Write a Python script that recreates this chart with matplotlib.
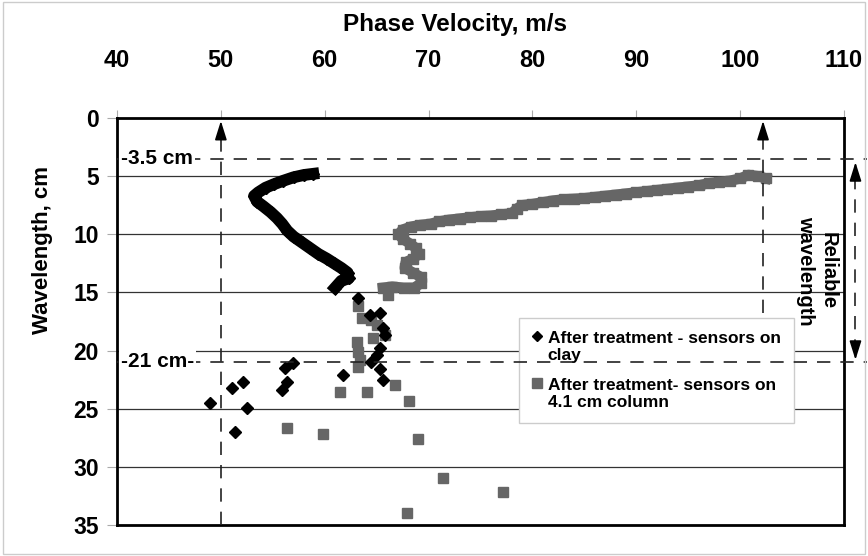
import numpy as np
import matplotlib.pyplot as plt
from matplotlib.lines import Line2D
from matplotlib.patches import Rectangle
from matplotlib.legend_handler import HandlerLine2D

plt.rcParams['font.family'] = ['Liberation Sans', 'DejaVu Sans']

# Data
# After treatment - sensors on clay (dense part of the curve)
clay_dense_v = [58.9, 58.0, 57.0, 56.0, 55.1, 54.3, 53.6, 53.2, 53.5, 54.1, 54.8, 55.4, 55.9,
                56.4, 57.0, 57.8, 58.6, 59.4, 60.2, 60.9, 61.6, 62.2, 62.3, 61.6, 61.3, 61.0]
clay_dense_w = [4.8, 4.9, 5.1, 5.4, 5.7, 6.0, 6.4, 6.7, 7.2, 7.6, 8.1, 8.6, 9.1,
                9.7, 10.2, 10.7, 11.2, 11.7, 12.1, 12.5, 12.9, 13.3, 13.8, 14.0, 14.3, 14.6]
# scattered points
clay_v = [63.2, 64.4, 65.3, 65.6, 65.8, 65.3, 65.0, 64.5, 65.3, 65.6, 61.8, 56.9, 56.2,
          56.4, 55.9, 52.1, 51.1, 49.0, 52.5, 51.4]
clay_w = [15.5, 16.9, 16.8, 18.1, 18.7, 19.8, 20.4, 21.0, 21.6, 22.5, 22.1, 21.1, 21.5,
          22.7, 23.4, 22.7, 23.2, 24.5, 24.9, 27.0]

# After treatment - sensors on 4.1 cm column (dense part)
col_dense_v = [102.5, 101.7, 100.8, 100.0, 99.0, 98.0, 97.0, 96.0, 95.0, 94.0, 93.0, 92.0,
               91.0, 90.0, 89.0, 88.0, 87.0, 86.0, 85.0, 84.0, 83.0, 82.0, 81.0, 80.0, 79.0,
               78.5, 78.0, 77.0, 76.0, 75.0, 74.0, 73.0, 72.0, 71.0, 70.2, 69.2, 68.3, 67.5,
               67.1, 67.5, 68.2, 68.8, 69.1, 68.5, 67.8, 67.7, 68.5, 69.3, 69.3, 68.6, 67.6,
               66.5, 65.6]
col_dense_w = [5.2, 5.0, 4.9, 5.2, 5.4, 5.5, 5.6, 5.8, 5.9, 6.0, 6.1, 6.2,
               6.3, 6.4, 6.5, 6.6, 6.7, 6.8, 6.9, 6.95, 7.0, 7.1, 7.25, 7.4, 7.5,
               7.8, 8.2, 8.3, 8.4, 8.45, 8.55, 8.65, 8.75, 8.9, 9.1, 9.2, 9.35, 9.6,
               10.0, 10.4, 10.8, 11.2, 11.7, 12.1, 12.4, 12.9, 13.3, 13.7, 14.2, 14.6, 14.6,
               14.5, 14.6]
col_v = [66.1, 63.2, 63.6, 64.5, 65.0, 65.8, 64.6, 63.1, 63.2, 63.4, 63.2, 66.8, 61.5,
         64.1, 68.1, 56.4, 59.8, 69.0, 71.4, 77.2, 67.9]
col_w = [15.2, 16.2, 17.2, 17.4, 17.8, 18.7, 18.9, 19.3, 20.1, 20.8, 21.4, 23.0, 23.6,
         23.6, 24.3, 26.7, 27.2, 27.6, 31.0, 32.2, 34.0]

labels = ['After treatment - sensors on\nclay', 'After treatment- sensors on\n4.1 cm column']

gray = '#666666'
dash = (0, (8, 6))


# legend handler that puts the marker next to the first text line
class FirstLineHandler(HandlerLine2D):
    def create_artists(self, legend, orig_handle, xdescent, ydescent, width, height,
                       fontsize, trans):
        arts = super().create_artists(legend, orig_handle, xdescent, ydescent, width,
                                      height, fontsize, trans)
        for a in arts:
            a.set_ydata(np.asarray(a.get_ydata()) + 0.62 * fontsize)
        return arts


fig = plt.figure(figsize=(8.68, 5.56), dpi=100)
ax = fig.add_axes([0.1348, 0.0558, 0.8376, 0.732])

# horizontal gridlines
for y in range(5, 35, 5):
    ax.axhline(y, color='#333333', lw=0.9, zorder=1)

# column series (gray squares)
ax.plot(col_dense_v, col_dense_w, color=gray, lw=7.5, marker='s', ms=7.5, zorder=3)
ax.plot(col_v, col_w, ls='none', color=gray, marker='s', ms=7.2, zorder=3)
# clay series (black diamonds)
ax.plot(clay_dense_v, clay_dense_w, color='k', lw=8.5, marker='D', ms=6.5, zorder=4)
ax.plot(clay_v, clay_w, ls='none', color='k', marker='D', ms=6.3, zorder=4)

# dashed limit lines
ax.plot([40, 112.2], [3.5, 3.5], ls=dash, color='#222222', lw=1.2, clip_on=False, zorder=6)
ax.plot([40, 112.2], [21, 21], ls=dash, color='#222222', lw=1.2, clip_on=False, zorder=6)
ax.plot([50, 50], [35, 1.2], ls=dash, color='#222222', lw=1.2, zorder=6)
ax.plot([102.2, 102.2], [16.8, 1.2], ls=dash, color='#222222', lw=1.2, zorder=6)
ax.plot([111.1, 111.1], [5.0, 19.6], ls=dash, color='#222222', lw=1.2, clip_on=False, zorder=6)

head = dict(arrowstyle='-|>,head_length=1.15,head_width=0.36', color='k', lw=1.2,
            shrinkA=0, shrinkB=0)
for xa, y0, y1 in [(50, 1.5, 0.25), (102.2, 1.5, 0.25), (111.1, 5.2, 3.8), (111.1, 19.4, 20.8)]:
    ax.annotate('', xy=(xa, y1), xytext=(xa, y0), arrowprops=head,
                annotation_clip=False, zorder=7)

# annotation texts
box = dict(fc='white', ec='none', pad=1.5)
ax.text(40.4, 3.5, '-3.5 cm', ha='left', va='center', fontsize=15, fontweight='bold',
        bbox=box, zorder=7)
ax.text(40.4, 20.9, '-21 cm-', ha='left', va='center', fontsize=15, fontweight='bold',
        bbox=box, zorder=7)
ax.text(107.4, 13.1, 'Reliable\nwavelength', rotation=-90, ha='center', va='center',
        ma='center', fontsize=14.5, fontweight='bold', zorder=7, linespacing=1.2)

# axes setup
ax.set_xlim(40, 110)
ax.set_ylim(35, 0)
ax.xaxis.tick_top()
ax.xaxis.set_label_position('top')
ax.set_xticks(np.arange(40, 111, 10))
ax.set_yticks(np.arange(0, 36, 5))
ax.tick_params(axis='x', length=6, color='#aaaaaa', pad=27, labelsize=17)
ax.tick_params(axis='y', length=7, color='#aaaaaa', pad=6, labelsize=16.5)
for lbl in ax.get_xticklabels() + ax.get_yticklabels():
    lbl.set_fontweight('bold')
for sp in ax.spines.values():
    sp.set_linewidth(2)
    sp.set_color('k')

ax.set_xlabel('Phase Velocity, m/s', fontsize=17.5, fontweight='bold')
ax.xaxis.set_label_coords(0.465, 1.214)
ax.set_ylabel('Wavelength, cm', fontsize=16, fontweight='bold')
ax.yaxis.set_label_coords(-0.0887, 0.676)

# legend
handles = [Line2D([], [], ls='none', marker='D', color='k', ms=5.5),
           Line2D([], [], ls='none', marker='s', color=gray, ms=6.5)]
leg = ax.legend(handles, labels, loc='upper left', bbox_to_anchor=(0.553, 0.509),
                borderaxespad=0, frameon=True, fancybox=False, edgecolor='#cccccc',
                framealpha=1, prop={'weight': 'bold', 'size': 12.5}, handlelength=0.6,
                handletextpad=0.3, labelspacing=0.85, borderpad=0.75,
                handler_map={Line2D: FirstLineHandler()})
leg.set_zorder(5)

# chart area border
fig.patches.append(Rectangle((0.004, 0.004), 0.992, 0.992, transform=fig.transFigure,
                             fill=False, ec='#cccccc', lw=1))

fig.savefig('out.png', dpi=100)
